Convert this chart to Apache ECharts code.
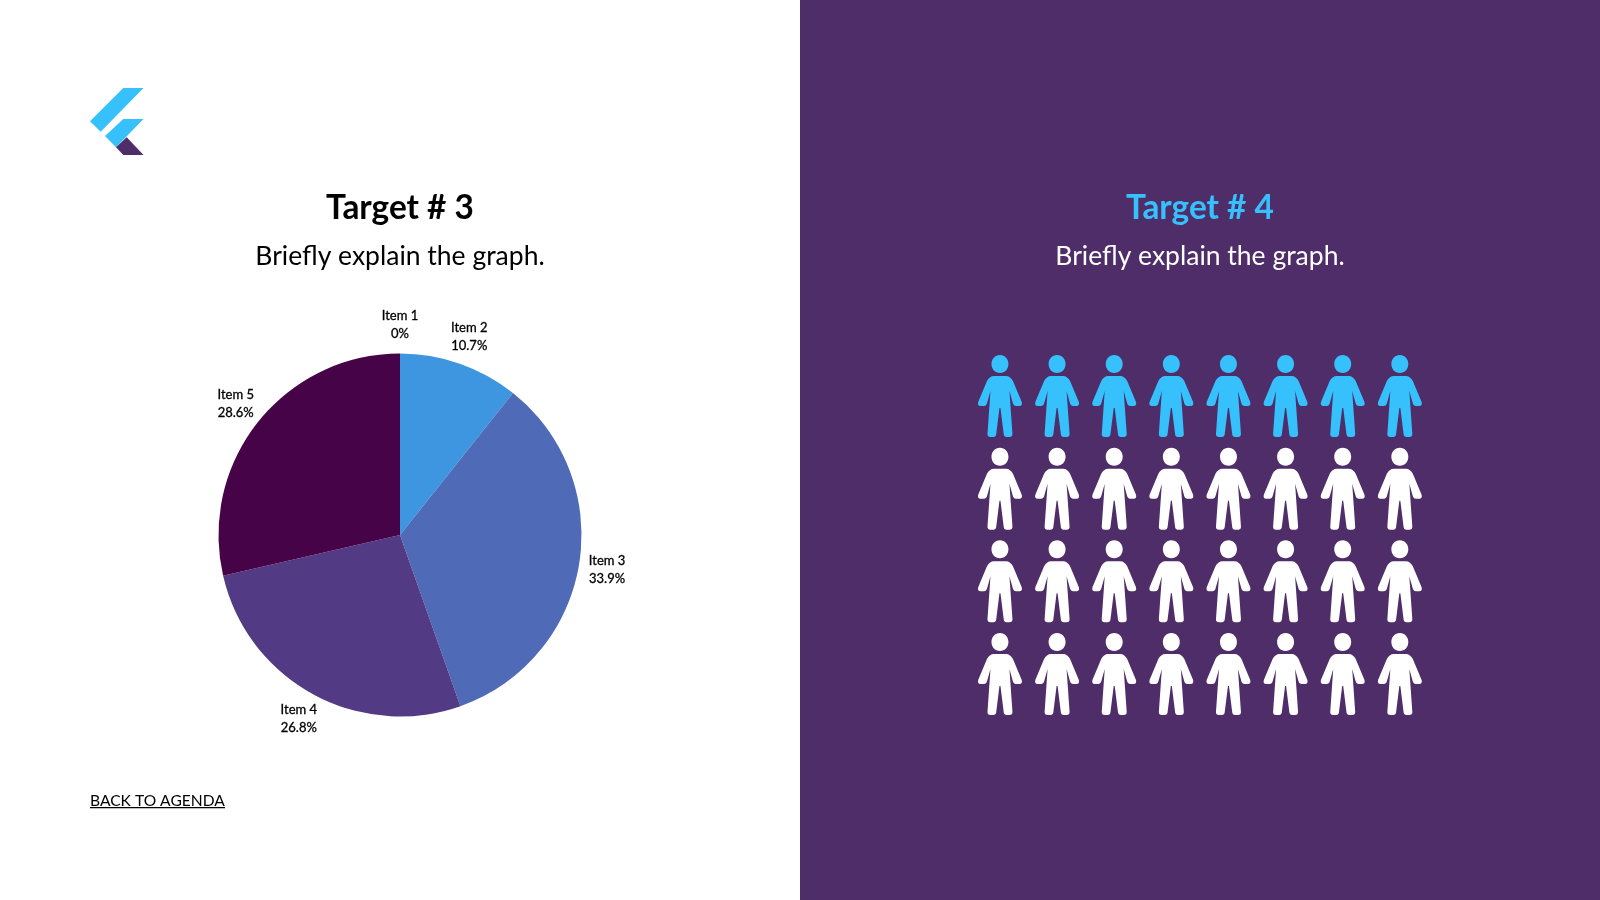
<!DOCTYPE html>
<html>
<head>
<meta charset="utf-8">
<style>html,body{margin:0;padding:0;background:#fff}#c{width:1600px;height:900px}</style>
<script src="https://cdn.jsdelivr.net/npm/echarts@6/dist/echarts.min.js"></script>
</head>
<body>
<div id="c"></div>
<script>
const pieNames = ['Item 1', 'Item 2', 'Item 3', 'Item 4', 'Item 5'];
const pieValues = [0, 10.7, 33.9, 26.8, 28.6];
const pieColors = ['#5b9bd5', '#3E96E0', '#4F6BB7', '#533A84', '#470347'];
const peopleColumns = ['1', '2', '3', '4', '5', '6', '7', '8'];
const peopleRows = ['1', '2', '3', '4'];
const highlightedRows = ['1'];
const titleLeft = 'Target # 3';
const titleRight = 'Target # 4';
const subtitle = 'Briefly explain the graph.';
const backLink = 'BACK TO AGENDA';

const PURPLE = '#4F2D69', BLUE = '#36C0FC';
const FONT = 'Lato, "Open Sans", sans-serif';
const PIE_CX = 400, PIE_CY = 535, PIE_R = 181.5, LABEL_R = 210;
const personPath = 'path://M22,0 C17,0 13.500,4 13.500,9 C13.500,14 17,18 22,18 C27,18 30.500,14 30.500,9 C30.500,4 27,0 22,0 Z ' +
  'M16,21 L28,21 C31,21 33.500,23 35,26 L43.800,47 C44.500,49.500 43.500,51 41.500,51 L38,51 C36.500,51 35.500,50 35,48.500 L31.500,36 L34.500,79 C34.600,81 33.500,82 31.500,82 L28.500,82 C27,82 26,81 25.800,79.500 L22.500,53 L21.500,53 L18.200,79.500 C18,81 17,82 15.500,82 L12.500,82 C10.500,82 9.400,81 9.500,79 L12.500,36 L9,48.500 C8.500,50 7.500,51 6,51 L2.500,51 C0.500,51 -0.500,49.500 0.200,47 L9,26 C10.500,23 13,21 16,21 Z';

function cells(rows) {
  const out = [];
  rows.forEach(r => peopleColumns.forEach(c => out.push([c, r])));
  return out;
}
const blueCells = cells(highlightedRows);
const whiteCells = cells(peopleRows.filter(r => !highlightedRows.includes(r)));

const pieTotal = pieValues.reduce((a, b) => a + b, 0);
function labelAt(params) {
  const before = pieValues.slice(0, params.dataIndex).reduce((a, b) => a + b, 0);
  const mid = (before + pieValues[params.dataIndex] / 2) / pieTotal * 2 * Math.PI;
  return {
    x: PIE_CX + LABEL_R * Math.sin(mid),
    y: PIE_CY - LABEL_R * Math.cos(mid),
    align: 'center',
    verticalAlign: 'middle'
  };
}

const chart = echarts.init(document.getElementById('c'), null, { renderer: 'canvas' });
chart.setOption({
  animation: false,
  backgroundColor: '#ffffff',
  textStyle: { fontFamily: FONT },
  title: [
    { text: titleLeft, left: 400, top: 192, padding: 0, textAlign: 'center', textStyle: { fontFamily: FONT, fontSize: 33.4, fontWeight: 700, color: '#000' } },
    { text: subtitle, left: 400, top: 242.500, padding: 0, textAlign: 'center', textStyle: { fontFamily: FONT, fontSize: 26.5, fontWeight: 400, color: '#000' } },
    { text: titleRight, left: 1200, top: 192, padding: 0, textAlign: 'center', textStyle: { fontFamily: FONT, fontSize: 33.4, fontWeight: 700, color: BLUE } },
    { text: subtitle, left: 1200, top: 242.500, padding: 0, textAlign: 'center', textStyle: { fontFamily: FONT, fontSize: 26.5, fontWeight: 400, color: '#fff' } }
  ],
  graphic: [
    { type: 'rect', z: -10, silent: true, shape: { x: 800, y: 0, width: 800, height: 900 }, style: { fill: PURPLE } },
    { type: 'polygon', shape: { points: [[123.3, 88], [143.5, 88], [100.7, 131.7], [90, 121.3]] }, style: { fill: BLUE } },
    { type: 'polygon', shape: { points: [[123.3, 119], [143.5, 119], [116, 147.3], [105, 136]] }, style: { fill: BLUE } },
    { type: 'polygon', shape: { points: [[116, 147.3], [126.7, 137.3], [143.5, 155], [123.3, 155]] }, style: { fill: PURPLE } },
    { type: 'text', left: 90, top: 793, style: { text: backLink, fontFamily: FONT, fontSize: 15.6, fontWeight: 400, fill: '#000' } },
    { type: 'rect', silent: true, shape: { x: 90, y: 807, width: 135, height: 1.3 }, style: { fill: '#000' } }
  ],
  grid: { left: 971.4, top: 349.6, width: 457, height: 370.8 },
  xAxis: { type: 'category', data: peopleColumns, show: false },
  yAxis: { type: 'category', data: peopleRows, inverse: true, show: false },
  series: [
    {
      type: 'pie',
      center: [PIE_CX, PIE_CY],
      radius: [0, PIE_R],
      startAngle: 90,
      clockwise: true,
      percentPrecision: 1,
      avoidLabelOverlap: false,
      stillShowZeroSum: true,
      label: {
        show: true, position: 'outside', formatter: '{b}\n{d}%',
        fontFamily: FONT, fontSize: 13, fontWeight: 400, lineHeight: 18, color: '#000',
        textBorderColor: '#000', textBorderWidth: 0.3
      },
      labelLine: { show: false, length: 6, length2: 0 },
      labelLayout: labelAt,
      emphasis: { disabled: true },
      data: pieNames.map((n, i) => ({ name: n, value: pieValues[i], itemStyle: { color: pieColors[i] } }))
    },
    { type: 'scatter', symbol: personPath, symbolSize: [44, 82], itemStyle: { color: BLUE, opacity: 1 }, data: blueCells, silent: true },
    { type: 'scatter', symbol: personPath, symbolSize: [44, 82], itemStyle: { color: '#fff', opacity: 1 }, data: whiteCells, silent: true }
  ]
});
</script>
</body>
</html>
